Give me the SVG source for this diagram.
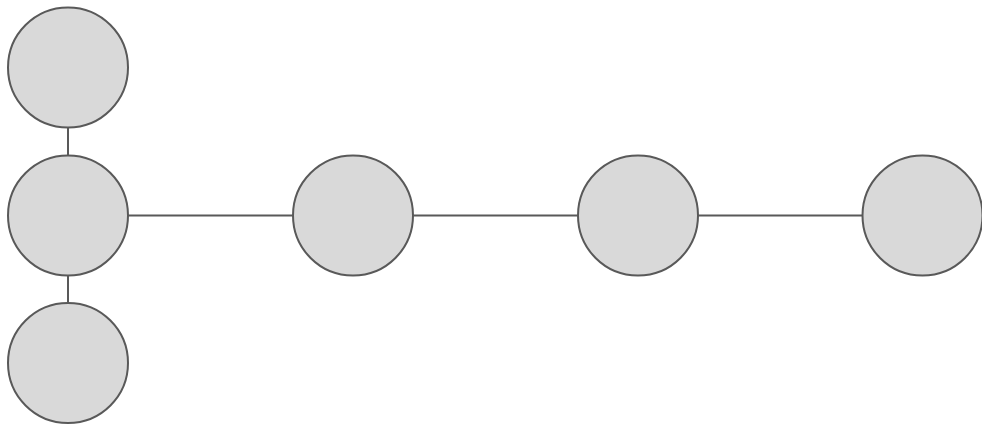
<svg xmlns="http://www.w3.org/2000/svg" width="982" height="424" viewBox="0 0 982 424">
<style>
.n{fill:#d9d9d9;stroke:#595959;stroke-width:2}
.e{stroke:#595959;stroke-width:2;fill:none}
</style>
<rect width="982" height="424" fill="#ffffff"/>
<g id="connectors">
<line class="e" x1="68" y1="127.5" x2="68" y2="155.5"/>
<line class="e" x1="68" y1="275.5" x2="68" y2="303"/>
<line class="e" x1="128" y1="215.5" x2="293" y2="215.5"/>
<line class="e" x1="413" y1="215.5" x2="578" y2="215.5"/>
<line class="e" x1="698" y1="215.5" x2="862.5" y2="215.5"/>
</g>
<g id="n1"><circle class="n" cx="68" cy="67.5" r="60"/></g>
<g id="n2"><circle class="n" cx="68" cy="215.5" r="60"/></g>
<g id="n3"><circle class="n" cx="68" cy="363" r="60"/></g>
<g id="n4"><circle class="n" cx="353" cy="215.5" r="60"/></g>
<g id="n5"><circle class="n" cx="638" cy="215.5" r="60"/></g>
<g id="n6"><circle class="n" cx="922.5" cy="215.5" r="60"/></g>
</svg>
